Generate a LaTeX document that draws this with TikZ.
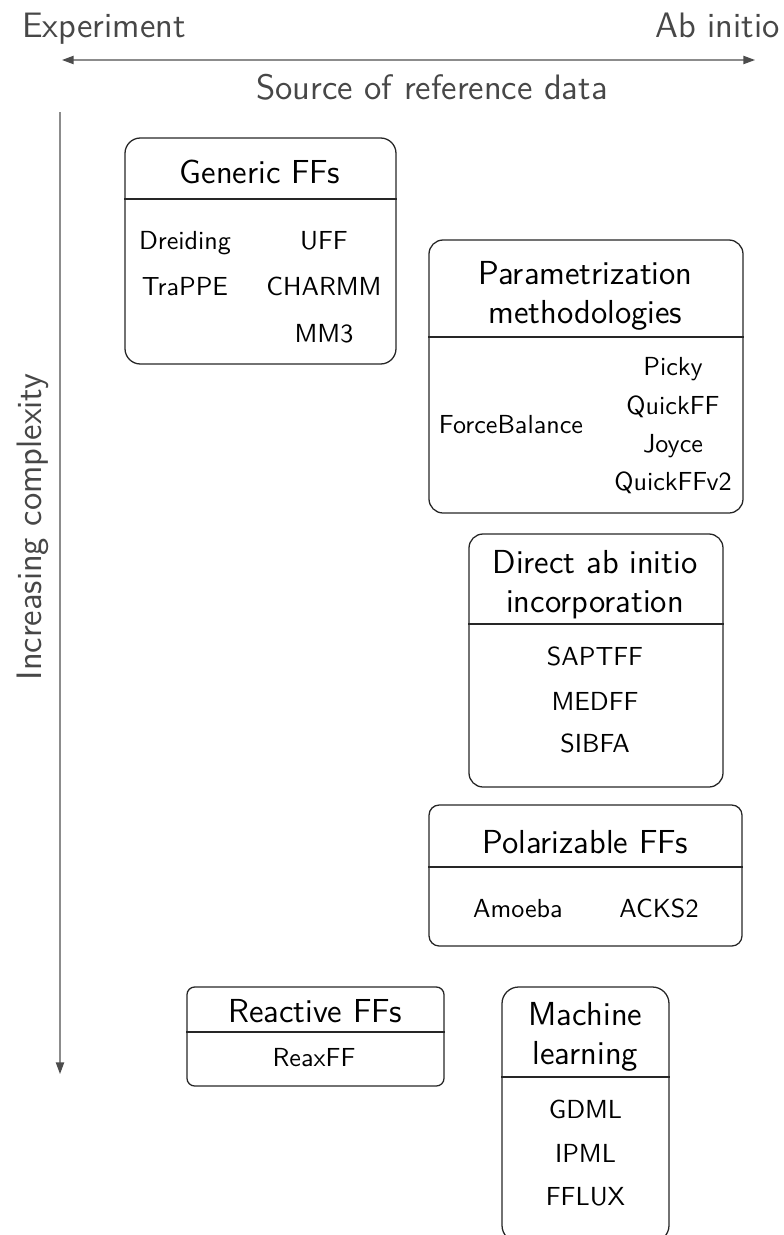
\documentclass[tikz,border=0pt]{standalone}
\usepackage{fontspec}
\usepackage{tikz}
\usetikzlibrary{arrows.meta, positioning, fit}

\begin{document}
\begin{tikzpicture}[
    x=0.390625pt, y=-0.390625pt,
    >={Triangle[length=4.5pt, width=3.2pt, color=black!70]},
    axis/.style={draw=black!45, line width=0.5pt},
    axislabel/.style={text=black!72, inner sep=0pt,
      font=\sffamily\fontsize{13.8}{16}\selectfont},
    ffbox/.style={draw=black!85, line width=0.5pt, rounded corners=5.5pt, inner sep=0pt},
    divider/.style={draw=black!85, line width=0.5pt},
    boxtitle/.style={align=center, inner sep=0pt,
      font=\sffamily\fontsize{13}{15.2}\selectfont},
    ffitem/.style={anchor=base, inner sep=0pt, font=\sffamily\fontsize{10.2}{12}\selectfont}
]
\useasboundingbox (0,0) rectangle (783,1235);

% axes
\coordinate (hleft)  at (62,60);
\coordinate (hright) at (755,60);
\coordinate (vtop)   at (60,112);
\coordinate (vbot)   at (60,1074);
\draw[axis, <->] (hleft) -- (hright);
\draw[axis, ->] (vtop) -- (vbot);
\node[axislabel, anchor=base] (exp) at (104,38) {Experiment};
\node[axislabel, anchor=base west] (abi) at (655,38) {Ab initio};
\node[axislabel, anchor=base] (src) at (432,99) {Source of reference data};
\node[axislabel, anchor=base, rotate=90] (cplx) at (41,527) {Increasing complexity};

% generic force fields
\node[ffbox, rounded corners=6pt, fit={(125,138) (396,364)}] (gen) {};
\draw[divider] (gen.west |- 0,199) -- (gen.east |- 0,199);
\node[boxtitle, anchor=base] (gentitle) at (260,183) {Generic FFs};
\node[ffitem] (dreiding) at (185,249) {Dreiding};
\node[ffitem] (uff)      at (324,249) {UFF};
\node[ffitem] (trappe)   at (185,295) {TraPPE};
\node[ffitem] (charmm)   at (324,295) {CHARMM};
\node[ffitem] (mmthree)  at (324,342) {MM3};

% parametrization methodologies
\node[ffbox, fit={(429,240) (743,513)}] (param) {};
\draw[divider] (param.west |- 0,337) -- (param.east |- 0,337);
\node[boxtitle] (paramtitle) at (585.5,295.5) {Parametrization\\methodologies};
\node[ffitem] (fbal)     at (511,433) {ForceBalance};
\node[ffitem] (picky)    at (673,375) {Picky};
\node[ffitem] (quickff)  at (673,414) {QuickFF};
\node[ffitem] (joyce)    at (673,452) {Joyce};
\node[ffitem] (quickfft) at (673,490) {QuickFFv2};

% direct ab initio incorporation
\node[ffbox, fit={(469,534) (723,787)}] (direct) {};
\draw[divider] (direct.west |- 0,624) -- (direct.east |- 0,624);
\node[boxtitle] (directtitle) at (595,585) {Direct ab initio\\incorporation};
\node[ffitem] (saptff) at (595,665) {SAPTFF};
\node[ffitem] (medff)  at (595,710) {MEDFF};
\node[ffitem] (sibfa)  at (595,752) {SIBFA};

% polarizable force fields
\node[ffbox, rounded corners=4pt, fit={(429,805) (742,946)}] (polar) {};
\draw[divider] (polar.west |- 0,867) -- (polar.east |- 0,867);
\node[boxtitle, anchor=base] (polartitle) at (585,853) {Polarizable FFs};
\node[ffitem] (amoeba) at (518,917) {Amoeba};
\node[ffitem] (acks)   at (659,917) {ACKS2};

% reactive force fields
\node[ffbox, rounded corners=3pt, fit={(187,987) (444,1086)}] (react) {};
\draw[divider] (react.west |- 0,1032) -- (react.east |- 0,1032);
\node[boxtitle, anchor=base] (reacttitle) at (315,1022) {Reactive FFs};
\node[ffitem] (reaxff) at (314,1066) {ReaxFF};

% machine learning
\node[ffbox, rounded corners=6.5pt, fit={(502,987) (669,1242)}] (ml) {};
\draw[divider] (ml.west |- 0,1077) -- (ml.east |- 0,1077);
\node[boxtitle] (mltitle) at (585.5,1037) {Machine\\learning};
\node[ffitem] (gdml)  at (585.5,1118) {GDML};
\node[ffitem] (ipml)  at (585.5,1162) {IPML};
\node[ffitem] (fflux) at (585.5,1205) {FFLUX};
\end{tikzpicture}
\end{document}
